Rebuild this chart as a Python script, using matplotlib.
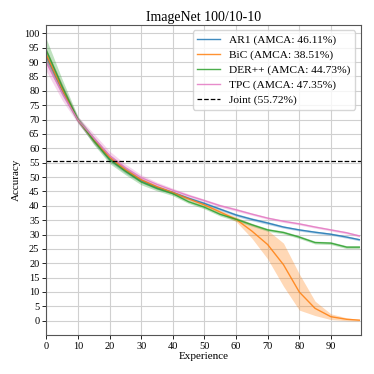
import matplotlib.pyplot as plt
import numpy as np

plt.rcParams['font.family'] = ['Liberation Serif', 'DejaVu Serif']

# experience index
x = np.array([0, 5, 10, 15, 20, 25, 30, 35, 40, 45, 50, 55, 60, 65, 70, 75, 80, 85, 90, 95, 99])

# mean accuracy per method
ar1 = [92.0, 80.3, 69.8, 62.8, 56.5, 52.3, 48.8, 46.4, 44.6, 42.6, 40.8, 38.8, 36.8, 35.3, 34.0, 32.6, 31.6, 30.8, 30.1, 29.1, 28.2]
bic = [92.5, 80.5, 69.8, 62.8, 56.8, 52.5, 49.0, 46.6, 44.6, 42.4, 40.3, 37.8, 35.3, 31.2, 26.5, 19.5, 10.0, 4.3, 1.4, 0.5, 0.2]
der = [94.0, 81.5, 70.0, 62.6, 56.0, 52.0, 48.3, 46.0, 44.2, 41.4, 39.5, 37.0, 35.3, 33.4, 31.6, 30.7, 29.1, 27.2, 27.0, 25.6, 25.6]
tpc = [89.8, 79.2, 69.8, 63.6, 57.5, 53.3, 49.8, 47.4, 45.4, 43.5, 41.8, 40.0, 38.6, 37.1, 35.7, 34.6, 33.7, 32.6, 31.6, 30.6, 29.5]

# std over runs
ar1_std = [2.5, 2.0, 1.0, 1.2, 1.2, 1.0, 0.8, 0.7, 0.6, 0.5, 0.5, 0.5, 0.5, 0.5, 0.5, 0.4, 0.4, 0.4, 0.4, 0.4, 0.4]
bic_std = [2.0, 1.8, 0.8, 1.0, 1.0, 0.8, 0.6, 0.5, 0.5, 0.5, 0.5, 0.6, 0.8, 2.5, 5.0, 7.5, 6.3, 2.5, 1.0, 0.5, 0.3]
der_std = [4.0, 2.5, 1.0, 1.3, 1.3, 1.2, 1.0, 0.8, 0.7, 0.6, 0.6, 0.6, 0.6, 0.5, 0.5, 0.5, 0.5, 0.5, 0.5, 0.5, 0.5]
tpc_std = [3.0, 2.5, 1.2, 1.5, 1.5, 1.2, 1.0, 0.8, 0.7, 0.6, 0.5, 0.5, 0.5, 0.4, 0.4, 0.4, 0.4, 0.4, 0.4, 0.4, 0.4]

labels = ['AR1 (AMCA: 46.11%)', 'BiC (AMCA: 38.51%)', 'DER++ (AMCA: 44.73%)', 'TPC (AMCA: 47.35%)']
joint = 55.72

fig = plt.figure(figsize=(3.74, 3.74), dpi=100)
ax = fig.add_axes([0.124, 0.104, 0.841, 0.83])

series = [(ar1, ar1_std, 'tab:blue'), (bic, bic_std, 'tab:orange'),
          (der, der_std, 'tab:green'), (tpc, tpc_std, 'tab:pink')]
for (m, s, c), lab in zip(series, labels):
    m = np.array(m)
    s = np.array(s)
    ax.plot(x, m, color=c, lw=1.0, alpha=0.85, label=lab)
    ax.fill_between(x, m - s, m + s, color=c, alpha=0.3, lw=0)

ax.axhline(joint, color='k', ls='--', lw=0.9, label='Joint (%.2f%%)' % joint)

ax.set_xlim(0, 99.5)
ax.set_ylim(-5, 103)
ax.set_xticks(np.arange(0, 100, 10))
ax.set_yticks(np.arange(0, 101, 5))
ax.tick_params(labelsize=7.5, length=3, width=0.6, pad=2)
ax.grid(True, color='#d0d0d0', lw=0.8)
ax.set_axisbelow(True)
for sp in ax.spines.values():
    sp.set_color('#555555')

ax.set_xlabel('Experience', fontsize=8, labelpad=1)
ax.set_ylabel('Accuracy', fontsize=8, labelpad=2)
ax.set_title('ImageNet 100/10-10', fontsize=10, pad=3)
ax.legend(loc='upper right', fontsize=8.2, labelspacing=0.42)

fig.savefig('out.png', dpi=100)
